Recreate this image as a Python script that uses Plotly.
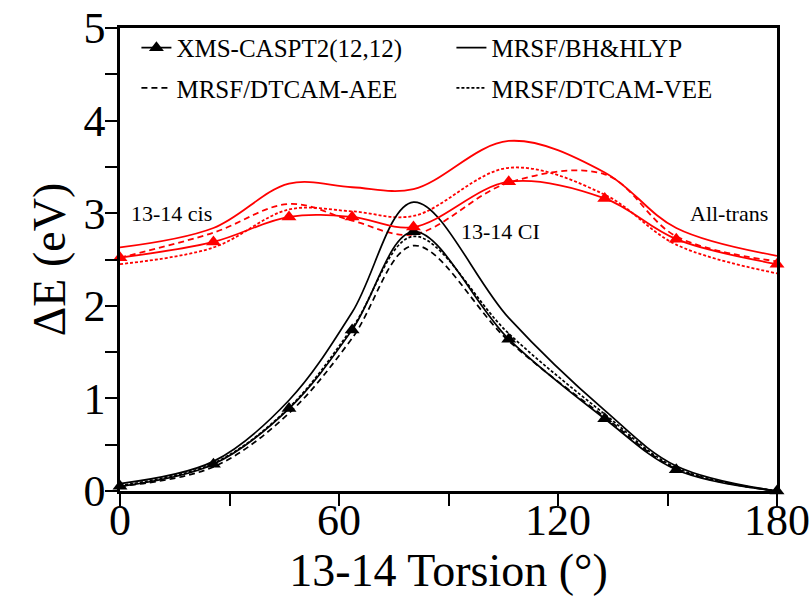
import plotly.graph_objects as go

# Torsion angles (degrees)
torsion = [0, 25.6, 46.3, 63.6, 80.4, 106.5, 132.8, 152.4, 180]

# S0 (black) energies, eV
s0_xms = [0.05, 0.29, 0.89, 1.74, 2.80, 1.64, 0.78, 0.23, 0.0]
s0_bh = [0.08, 0.32, 0.98, 1.93, 3.12, 1.87, 0.87, 0.27, 0.0]
s0_aee = [0.05, 0.26, 0.84, 1.65, 2.65, 1.62, 0.80, 0.24, 0.0]
s0_vee = [0.06, 0.30, 0.90, 1.76, 2.75, 1.70, 0.83, 0.25, 0.0]

# S1 (red) energies, eV
s1_xms = [2.52, 2.69, 2.96, 2.96, 2.85, 3.34, 3.16, 2.72, 2.45]
s1_bh = [2.63, 2.84, 3.32, 3.28, 3.26, 3.78, 3.44, 2.84, 2.54]
s1_aee = [2.52, 2.79, 3.10, 2.92, 2.77, 3.33, 3.42, 2.75, 2.48]
s1_vee = [2.45, 2.63, 3.04, 3.02, 2.97, 3.49, 3.20, 2.66, 2.35]

names = ["XMS-CASPT2(12,12)", "MRSF/BH&HLYP", "MRSF/DTCAM-AEE", "MRSF/DTCAM-VEE"]
dashes = ["solid", "solid", "6px,4px", "3px,2px"]
legend_ids = ["legend", "legend", "legend2", "legend2"]

xtick_vals = [0, 60, 120, 180]
ytick_vals = [0, 1, 2, 3, 4, 5]

FONT = "Times New Roman, Liberation Serif, serif"

fig = go.Figure()

s0_sets = [s0_xms, s0_bh, s0_aee, s0_vee]
s1_sets = [s1_xms, s1_bh, s1_aee, s1_vee]

for i in [1, 2, 3]:
    fig.add_trace(go.Scatter(
        x=torsion, y=s1_sets[i], mode="lines",
        line=dict(color="#FF0000", width=1.8, dash=dashes[i], shape="spline", smoothing=1.0),
        showlegend=False, cliponaxis=False))

fig.add_trace(go.Scatter(
    x=torsion, y=s0_xms, mode="lines+markers", name=names[0],
    line=dict(color="black", width=1.7, shape="spline", smoothing=1.0),
    marker=dict(symbol="triangle-up", size=13, color="black"),
    legend="legend", showlegend=True, cliponaxis=False))
for i in [1, 2, 3]:
    fig.add_trace(go.Scatter(
        x=torsion, y=s0_sets[i], mode="lines", name=names[i],
        line=dict(color="black", width=1.7, dash=dashes[i], shape="spline", smoothing=1.0),
        legend=legend_ids[i], showlegend=True, cliponaxis=False))

fig.add_trace(go.Scatter(
    x=torsion, y=s1_xms, mode="lines+markers",
    line=dict(color="#FF0000", width=1.8, shape="spline", smoothing=1.0),
    marker=dict(symbol="triangle-up", size=13, color="#FF0000"),
    showlegend=False, cliponaxis=False))

axis_common = dict(
    showline=True, linecolor="black", linewidth=2.5, mirror=True,
    ticks="outside", ticklen=12, tickwidth=2, tickcolor="black",
    showgrid=False, zeroline=False, automargin=False,
    ticklabeloverflow="allow",
    tickfont=dict(family=FONT, size=44, color="black"),
)

fig.update_xaxes(
    range=[0, 180], tickvals=xtick_vals, ticklabelstandoff=-24,
    minor=dict(dtick=30, tick0=0, ticks="outside", ticklen=12, tickwidth=2, tickcolor="black", showgrid=False),
    title=dict(text="13-14 Torsion (°)", font=dict(family=FONT, size=46, color="black"), standoff=0),
    **axis_common)
fig.update_yaxes(
    range=[0, 5], tickvals=ytick_vals, ticklabelstandoff=-9,
    minor=dict(dtick=0.5, tick0=0, ticks="outside", ticklen=12, tickwidth=2, tickcolor="black", showgrid=False),
    title=dict(text="ΔE (eV)", font=dict(family=FONT, size=46, color="black"), standoff=4),
    **axis_common)

ann_font = dict(family=FONT, size=22, color="black")
fig.add_annotation(x=2.5, y=3.0, text="13-14 cis", showarrow=False, xanchor="left", yanchor="middle", font=ann_font)
fig.add_annotation(x=93, y=2.8, text="13-14 CI", showarrow=False, xanchor="left", yanchor="middle", font=ann_font)
fig.add_annotation(x=178, y=3.0, text="All-trans", showarrow=False, xanchor="right", yanchor="middle", font=ann_font)

leg_common = dict(orientation="h", xanchor="left", yanchor="middle",
                  font=dict(family=FONT, size=25, color="black"),
                  bgcolor="rgba(0,0,0,0)", entrywidth=270, entrywidthmode="pixels",
                  itemwidth=30, traceorder="normal")

fig.update_layout(
    width=809, height=607,
    margin=dict(l=120, r=32, t=28, b=116),
    paper_bgcolor="white", plot_bgcolor="white",
    legend=dict(x=0.025, y=0.957, **leg_common),
    legend2=dict(x=0.025, y=0.870, **leg_common),
)

fig.write_html("out.html")
